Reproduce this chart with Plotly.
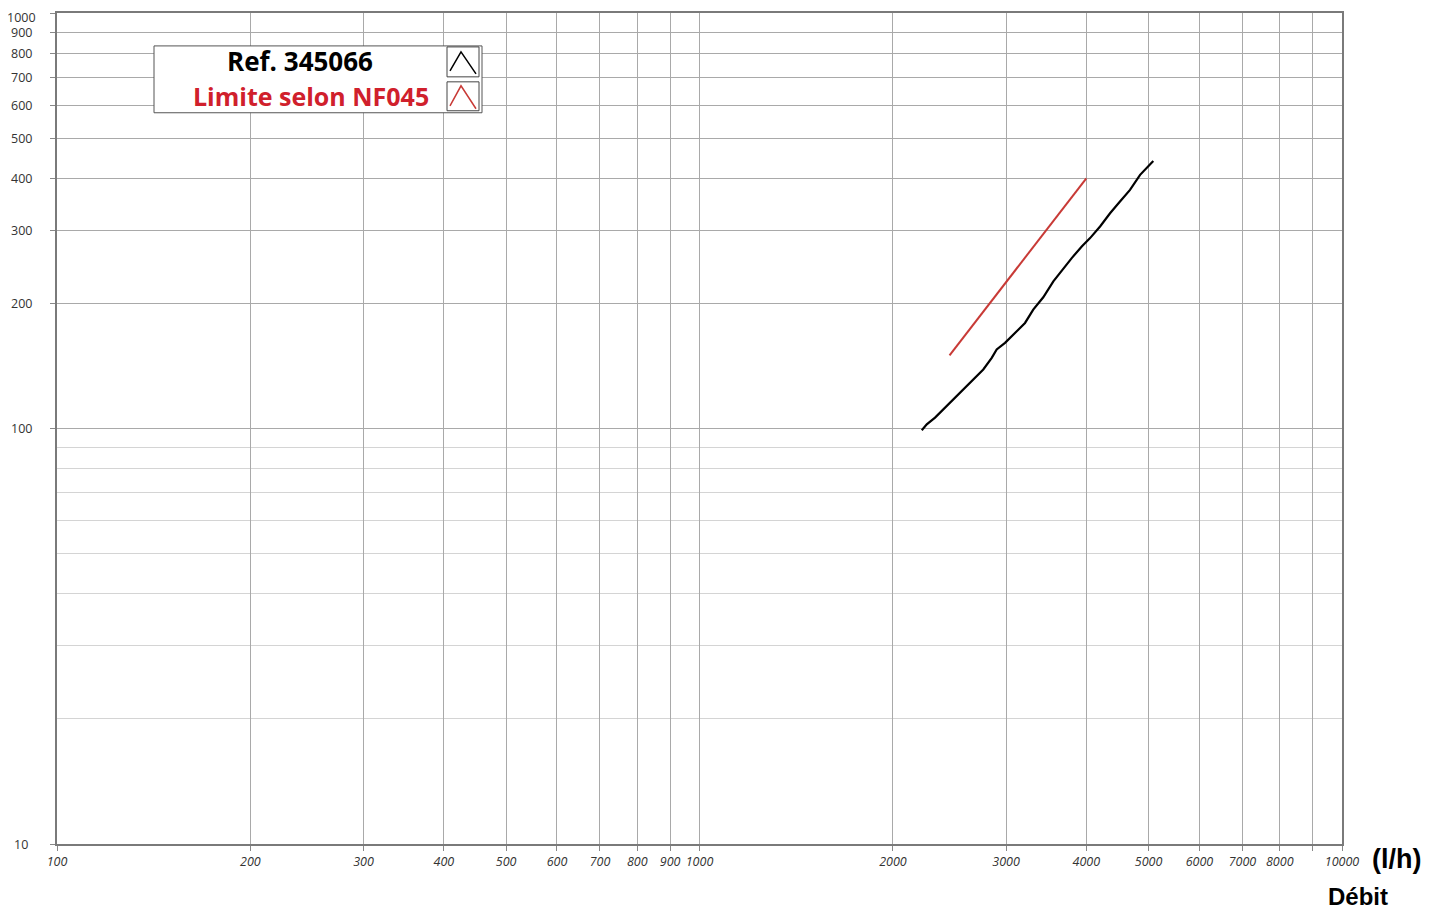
import math
import plotly.graph_objects as go

# ---- data ----
flow_ref = [2218, 2258, 2326, 2411, 2499, 2590, 2669, 2765, 2850, 2901, 2989, 3098,
            3211, 3307, 3428, 3554, 3685, 3796, 3935, 4054, 4202, 4355, 4513, 4678,
            4850, 4907, 5085]
pressure_ref = [99.0, 102.3, 106.2, 112.2, 118.6, 125.3, 131.3, 138.7, 147.9, 155.0,
                160.7, 169.8, 179.5, 193.3, 206.9, 226.1, 243.2, 257.1, 274.3, 287.2,
                306.4, 329.7, 351.7, 375.2, 407.8, 415.3, 440.5]

flow_lim = [2450, 4000]
pressure_lim = [150, 400]

x_tickvals = [100, 200, 300, 400, 500, 600, 700, 800, 900, 1000,
              2000, 3000, 4000, 5000, 6000, 7000, 8000, 9000, 10000]
x_ticktext = ["100", "200", "300", "400", "500", "600", "700", "800", "900", "1000",
              "2000", "3000", "4000", "5000", "6000", "7000", "8000", "", "10000"]
y_tickvals = [10, 100, 200, 300, 400, 500, 600, 700, 800, 900, 1000]
y_ticktext = ["10", "100", "200", "300", "400", "500", "600", "700", "800", "900", "1000"]
y_minor = [20, 30, 40, 50, 60, 70, 80, 90]

legend_labels = ["Ref. 345066", "Limite selon NF045"]
RED_TXT = "#d0202c"
RED_LINE = "#c83a36"

# the page has an 8px body margin: work in screen pixels, convert to figure pixels
OFF = 8
W, H = 1438 - 2 * OFF, 917 - 2 * OFF
L, R, T, B = 57, 1342, 11, 844  # plot area in screen pixels


def px(x):
    return (x - L) / (R - L)


def py(y):
    return (B - y) / (B - T)


fig = go.Figure()
fig.add_trace(go.Scatter(x=flow_ref, y=pressure_ref, mode="lines",
                         line=dict(color="black", width=2.2), name=legend_labels[0],
                         showlegend=False))
fig.add_trace(go.Scatter(x=flow_lim, y=pressure_lim, mode="lines",
                         line=dict(color=RED_LINE, width=2), name=legend_labels[1],
                         showlegend=False))

shapes = []
shapes.append(dict(type="rect", xref="paper", yref="paper",
                   x0=px(154), x1=px(482), y0=py(111), y1=py(44),
                   fillcolor="white", line=dict(color="#555555", width=1), layer="above"))
for (y0, y1) in [(45, 75), (80, 109)]:
    shapes.append(dict(type="rect", xref="paper", yref="paper",
                       x0=px(447), x1=px(479), y0=py(y1), y1=py(y0),
                       fillcolor="white", line=dict(color="#444444", width=1), layer="above"))


def peak(yb, yt, color, w):
    p = f"M {px(450)} {py(yb)} L {px(461)} {py(yt)} L {px(476)} {py(yb + 3)}"
    return dict(type="path", xref="paper", yref="paper", path=p,
                line=dict(color=color, width=w), layer="above")


shapes.append(peak(69, 50, "black", 1.5))
shapes.append(peak(104, 84, RED_LINE, 1.5))

annotations = [
    dict(text=f"<b>{legend_labels[0]}</b>", xref="paper", yref="paper",
         x=px(300), y=py(59), xanchor="center", yanchor="middle", showarrow=False,
         font=dict(family="Open Sans", size=26, color="black")),
    dict(text=f"<b>{legend_labels[1]}</b>", xref="paper", yref="paper",
         x=px(431), y=py(94), xanchor="right", yanchor="middle", showarrow=False,
         font=dict(family="Open Sans", size=25, color=RED_TXT)),
    dict(text="<b>(l/h)</b>", xref="paper", yref="paper",
         x=px(1396), y=py(859), xanchor="center", yanchor="middle", showarrow=False,
         font=dict(family="Liberation Sans", size=27, color="black")),
    dict(text="<b>Débit</b>", xref="paper", yref="paper",
         x=px(1358), y=py(897), xanchor="center", yanchor="middle", showarrow=False,
         font=dict(family="Liberation Sans", size=24, color="black")),
]
# y tick labels, centred in the left margin like the reference
for v, t in zip(y_tickvals, y_ticktext):
    annotations.append(dict(text=t, xref="paper", yref="y", x=0, y=math.log10(v),
                            xanchor="center", yanchor="middle", xshift=-(L - 21),
                            yshift=-4 if v == 1000 else 0,
                            showarrow=False,
                            font=dict(family="Open Sans", size=12.5, color="#333333")))

fig.update_layout(
    width=W, height=H,
    margin=dict(l=L - OFF, r=(1438 - OFF) - R, t=T - OFF, b=(917 - OFF) - B, pad=0),
    paper_bgcolor="white", plot_bgcolor="white",
    shapes=shapes, annotations=annotations,
    showlegend=False,
)

fig.update_xaxes(
    type="log", range=[2, 4],
    tickmode="array", tickvals=x_tickvals, ticktext=x_ticktext,
    ticks="outside", ticklen=5, tickcolor="#888888",
    tickfont=dict(family="Open Sans", size=12.5, color="#333333", style="italic"),
    showgrid=True, gridcolor="#a9a9a9", gridwidth=1,
    showline=True, linecolor="#7a7a7a", linewidth=2, mirror=True,
    zeroline=False,
)
fig.update_yaxes(
    type="log", range=[1, 3],
    tickmode="array", tickvals=y_tickvals, ticktext=y_ticktext,
    showticklabels=False,
    ticks="outside", ticklen=5, tickcolor="#888888",
    showgrid=True, gridcolor="#a9a9a9", gridwidth=1,
    minor=dict(tickmode="array", tickvals=y_minor, showgrid=True,
               gridcolor="#d4d4d4", gridwidth=1, ticks=""),
    showline=True, linecolor="#7a7a7a", linewidth=2, mirror=True,
    zeroline=False,
)

fig.write_html("out.html")
